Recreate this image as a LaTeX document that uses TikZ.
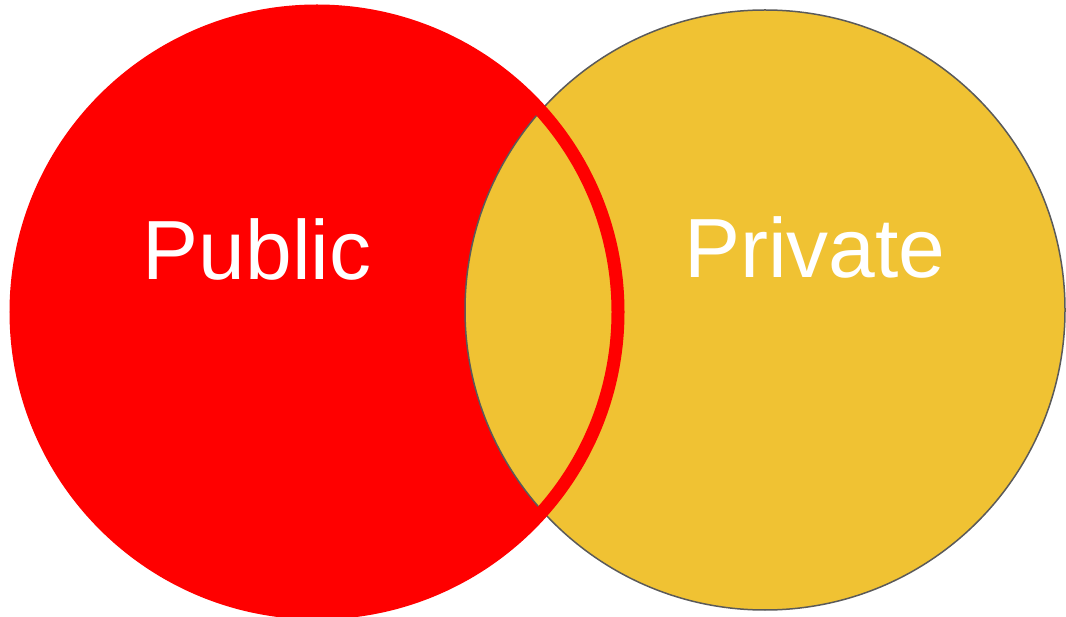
\documentclass[tikz,border=0pt]{standalone}
\usepackage{fontspec}
\setmainfont{Liberation Sans}
\definecolor{pubred}{HTML}{FF0000}
\definecolor{privyellow}{HTML}{F0C233}
\definecolor{rimgray}{HTML}{5A5A5A}
\begin{document}
\begin{tikzpicture}[x=1pt,y=-1pt]
\tikzstyle{every node}+=[inner sep=0pt]
\tikzstyle{setlabel}=[text=white,anchor=base,font=\fontsize{84}{100}\selectfont]
\useasboundingbox (0,0) rectangle (1066,617);
% the two sets, public drawn last so its rim crosses the overlap
\fill [pubred] (317,312) circle (301);
\draw [rimgray, fill=privyellow, line width=1.5pt] (765,310) circle (300);
\draw [pubred, line width=13pt] (317,312) circle (301);
\node [setlabel] (public) at (257,280) {Public};
\node [setlabel] (private) at (815,278) {Private};
\end{tikzpicture}
\end{document}
